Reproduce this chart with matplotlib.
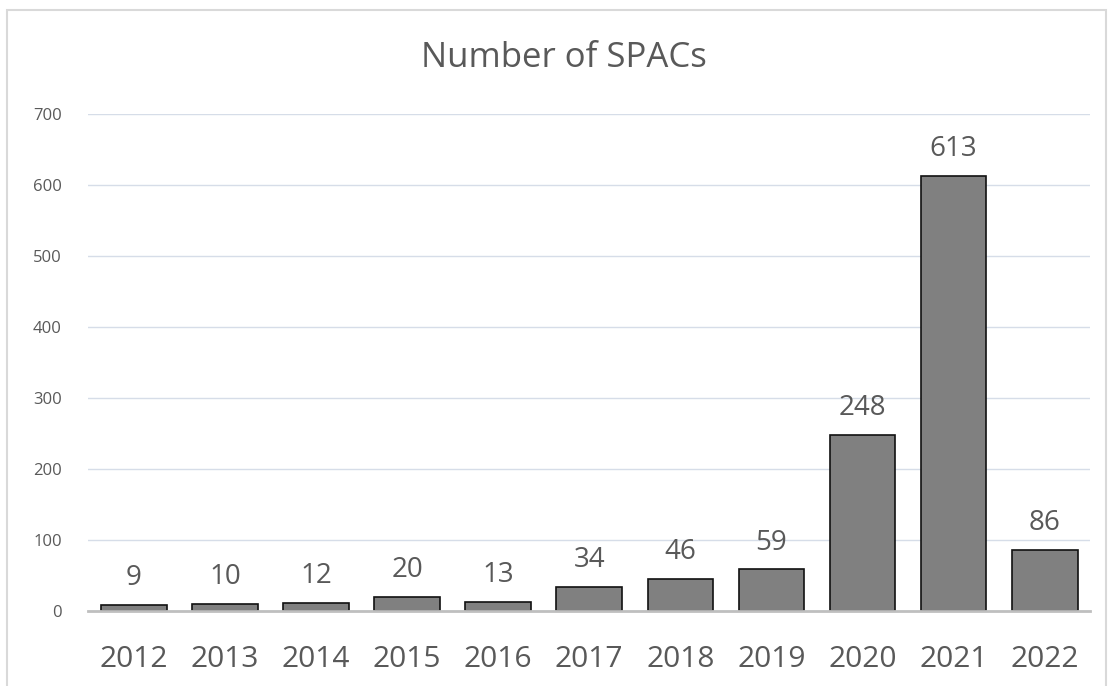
import matplotlib
matplotlib.use("Agg")
import matplotlib.pyplot as plt
from matplotlib.patches import Rectangle

years = ["2012", "2013", "2014", "2015", "2016", "2017", "2018", "2019", "2020", "2021", "2022"]
counts = [9, 10, 12, 20, 13, 34, 46, 59, 248, 613, 86]
yticks = [0, 100, 200, 300, 400, 500, 600, 700]

plt.rcParams['font.family'] = ['Open Sans', 'DejaVu Sans']
txt = '#595959'

fig = plt.figure(figsize=(11.16, 6.86), dpi=100)
# light frame around the chart
fig.patches.append(Rectangle((0.006, -0.01), 0.985, 0.995, transform=fig.transFigure,
                             fill=False, edgecolor='#d9d9d9', linewidth=1.5))

ax = fig.add_axes([0.079, 0.109, 0.898, 0.725])
x = range(len(years))
bars = ax.bar(x, counts, width=0.72, color='#808080', edgecolor='#111111', linewidth=1.2, zorder=3)

for i, v in enumerate(counts):
    ax.text(i, v + 18, str(v), ha='center', va='bottom', fontsize=20, color=txt)

ax.set_xlim(-0.5, 10.5)
ax.set_ylim(0, 700)
ax.set_yticks(yticks)
ax.set_yticklabels([str(t) for t in yticks], fontsize=12, color=txt)
ax.set_xticks(list(x))
ax.set_xticklabels(years, fontsize=21.5, color=txt)
ax.tick_params(length=0)
ax.tick_params(axis='y', pad=19)
ax.tick_params(axis='x', pad=24)
ax.grid(axis='y', color='#d6dde8', linewidth=1, zorder=0)
for s in ['top', 'right', 'left']:
    ax.spines[s].set_visible(False)
ax.spines['bottom'].set_color('#bfbfbf')
ax.spines['bottom'].set_linewidth(2)
ax.spines['bottom'].set_zorder(4)

fig.text(0.505, 0.915, "Number of SPACs", ha='center', va='center', fontsize=25, color=txt)

fig.savefig("out.png", dpi=100, facecolor='white')
